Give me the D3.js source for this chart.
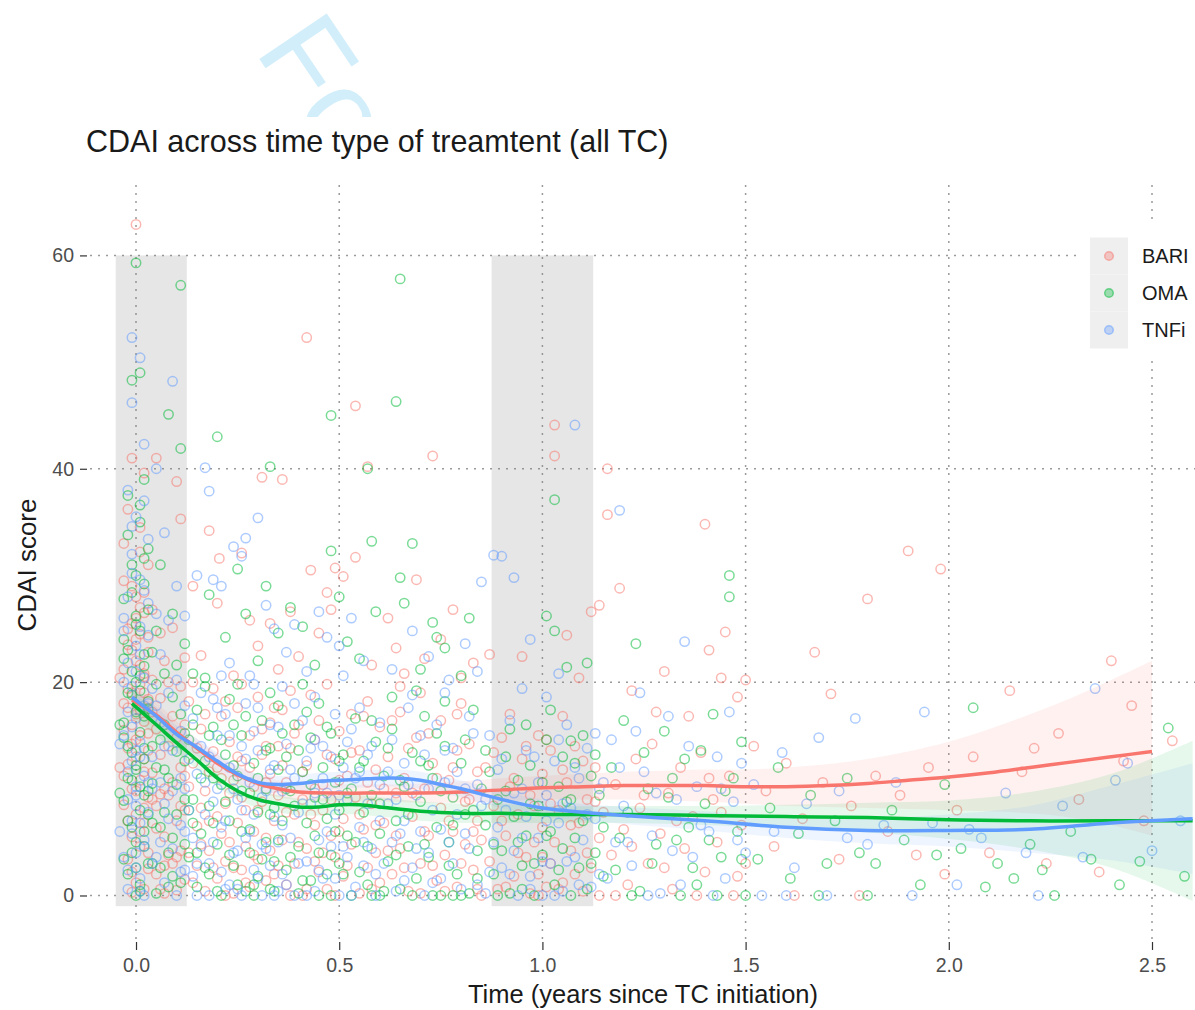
<!DOCTYPE html>
<html><head><meta charset="utf-8">
<script src="https://cdn.jsdelivr.net/npm/d3@7"></script>
<style>
html,body{margin:0;padding:0;background:#fff;}
svg{display:block;font-family:"Liberation Sans",Arial,sans-serif;}
</style></head><body>
<svg id="chart" width="1195" height="1010"></svg>
<script>
// CDAI score over time since treatment change, by type of treatment
const groups = ["BARI", "OMA", "TNFi"];
const groupColors = ["#F8766D", "#00BA38", "#619CFF"];
const xTicks = [0, 0.5, 1, 1.5, 2, 2.5];
const yTicks = [0, 20, 40, 60];
const visitWindows = [[-0.05, 0.125], [0.875, 1.125]];
const windowRange = [-1, 60];

// observations: [years since TC initiation, CDAI score]
const bariPts = [
[0.00,62.9],[-0.01,41.0],[0.02,39.6],[-0.02,36.2],[0.01,34.5],[0.03,31.0],[-0.03,29.5],[0.00,28.0],[0.02,26.5],[-0.01,25.5],[0.01,24.5],[-0.02,23.5],[0.03,22.8],[0.00,22.0],[-0.03,21.2],[0.02,20.5],[0.01,19.8],[-0.01,19.0],[0.03,18.4],[-0.02,17.6],[0.00,17.0],[0.02,16.3],[-0.03,15.5],[0.01,15.0],[-0.01,14.2],[0.03,13.6],[0.00,13.0],[-0.02,12.3],[0.02,11.6],[0.01,10.8],[-0.01,10.0],[0.03,9.2],[-0.03,8.5],[0.00,7.6],[0.02,6.8],[-0.01,5.5],[0.01,4.6],[-0.02,3.4],[0.03,2.5],[0.00,1.2],[-0.01,0.3],[0.02,20.8],[0.00,24.0],[-0.02,19.4],[0.01,27.0],
[-0.03,33.0],[0.01,32.2],[-0.01,29.0],[0.02,28.4],[0.00,26.0],[-0.02,25.0],[0.03,24.2],[-0.01,23.0],[0.01,21.6],[0.02,19.0],[-0.03,18.0],[0.01,17.4],[-0.01,16.0],[0.03,15.2],[0.00,14.6],[-0.02,13.8],[0.02,12.8],[-0.03,11.2],[0.00,9.8],[0.02,8.2],[-0.02,7.0],[0.01,6.0],[0.03,4.0],[-0.01,2.2],[0.02,0.6],[0.04,26.8],[0.04,17.2],[0.04,9.0],[-0.04,20.4],[-0.04,12.0],
[0.05,41.0],[0.11,35.3],[0.10,38.8],[0.07,22.0],[0.09,25.1],[0.12,22.3],[0.06,18.5],[0.09,16.8],[0.08,14.0],[0.11,12.0],[0.04,11.5],[0.06,9.5],[0.12,8.0],[0.07,5.5],[0.08,3.8],[0.05,2.0],[0.10,0.5],[0.04,20.2],[0.06,13.2],[0.10,7.0],[0.11,4.2],[0.05,6.3],[0.09,10.6],[0.12,1.5],[0.07,0.2],
[0.05,15.6],[0.06,24.6],[0.07,10.0],[0.08,20.0],[0.09,3.0],[0.10,14.8],[0.11,19.6],[0.12,11.2],[0.05,8.4],[0.07,2.8],[0.08,9.4],[0.10,3.6],[0.11,8.4],[0.12,16.0],[0.06,0.6],
[0.14,29.0],[0.16,22.5],[0.18,34.2],[0.20,27.4],[0.205,31.6],[0.24,20.6],[0.26,32.1],[0.28,25.8],[0.30,23.4],[0.31,39.2],[0.33,25.5],[0.35,21.2],
[0.13,18.2],[0.14,12.4],[0.15,6.5],[0.15,2.8],[0.16,15.6],[0.17,9.8],[0.17,0.4],[0.18,4.2],[0.19,13.5],[0.19,19.4],[0.20,7.4],[0.20,1.6],[0.21,11.0],[0.21,16.8],[0.22,3.2],[0.22,8.6],[0.23,14.4],[0.23,5.0],[0.24,0.2],[0.24,10.8],[0.25,17.6],[0.25,6.8],[0.26,2.4],[0.26,12.6],[0.27,8.0],[0.27,4.6],[0.28,15.0],[0.28,0.8],[0.29,10.2],[0.29,6.0],[0.30,18.6],[0.30,3.4],[0.31,13.2],[0.31,8.8],[0.32,1.4],[0.32,5.4],[0.33,16.2],[0.33,11.4],[0.34,7.0],[0.34,2.0],[0.35,14.0],[0.35,9.4],[0.13,4.0],[0.16,8.2],[0.18,11.6],
[0.13,10.2],[0.14,1.2],[0.15,13.8],[0.16,4.8],[0.17,17.0],[0.18,7.0],[0.19,2.6],[0.20,12.0],[0.21,5.8],[0.22,18.2],[0.23,9.6],[0.24,2.6],[0.25,13.0],[0.26,9.2],[0.27,1.2],[0.28,12.0],[0.29,3.8],[0.30,8.0],[0.31,15.6],[0.32,10.6],[0.33,4.2],[0.34,17.6],[0.35,2.8],[0.36,12.2],[0.37,7.8],[0.38,0.0],[0.39,15.2],[0.40,5.0],[0.41,11.6],[0.42,0.6],[0.43,7.6],[0.44,10.0],[0.45,16.4],[0.46,4.0],[0.47,13.2],[0.48,9.0],[0.49,0.0],[0.50,6.0],[0.14,20.0],[0.22,0.0],[0.26,19.8],[0.32,14.0],[0.38,19.2],[0.44,3.2],[0.50,10.8],
[0.36,39.0],[0.38,26.6],[0.40,22.4],[0.42,52.3],[0.43,30.5],[0.45,24.6],[0.47,28.4],[0.48,26.8],[0.49,30.7],[0.51,29.9],[0.54,31.7],[0.54,45.9],[0.57,40.2],[0.58,21.6],
[0.36,17.4],[0.36,5.2],[0.37,10.6],[0.37,1.0],[0.38,13.8],[0.39,7.6],[0.39,3.0],[0.40,16.0],[0.41,9.0],[0.41,0.0],[0.42,12.2],[0.42,4.4],[0.43,18.8],[0.44,6.6],[0.44,14.6],[0.45,2.2],[0.46,10.4],[0.46,8.0],[0.47,19.8],[0.47,0.6],[0.48,5.6],[0.49,12.8],[0.49,3.6],[0.50,15.4],[0.51,7.2],[0.51,1.8],[0.52,11.2],[0.53,17.0],[0.53,4.8],[0.54,9.2],[0.55,13.6],[0.55,0.2],[0.56,6.2],[0.57,2.6],[0.57,18.2],[0.58,8.6],[0.59,11.8],[0.59,4.0],[0.60,15.8],[0.60,1.2],
[0.52,2.8],[0.53,13.4],[0.55,7.6],[0.56,16.8],[0.58,0.6],[0.59,6.6],[0.61,10.0],[0.62,4.2],[0.63,16.4],[0.64,5.6],[0.66,2.6],[0.67,13.8],[0.68,9.6],[0.70,0.2],[0.71,6.0],[0.72,15.2],[0.74,11.0],[0.76,0.4],[0.77,7.0],[0.78,12.0],[0.80,3.0],[0.81,8.8],[0.83,6.0],[0.84,0.6],[0.57,10.6],[0.65,19.6],[0.73,2.8],[0.79,17.0],
[0.62,26.0],[0.64,23.2],[0.66,20.8],[0.69,29.6],[0.71,22.2],[0.73,41.2],[0.75,24.0],[0.78,26.8],[0.80,20.4],[0.83,21.8],
[0.61,6.8],[0.62,13.0],[0.63,2.0],[0.64,9.6],[0.65,17.2],[0.65,4.4],[0.66,11.0],[0.67,0.4],[0.68,7.4],[0.69,14.8],[0.70,3.0],[0.70,19.0],[0.71,10.0],[0.72,5.6],[0.73,12.4],[0.74,1.4],[0.75,8.2],[0.75,16.4],[0.76,3.8],[0.77,10.8],[0.78,6.0],[0.79,13.6],[0.79,0.8],[0.80,18.0],[0.81,4.8],[0.82,9.0],[0.82,14.2],[0.83,2.4],[0.84,7.0],[0.84,11.6],[0.85,0.0],[0.85,5.2],
[0.87,22.6],[0.95,22.4],[1.03,44.1],[1.03,41.2],[1.06,24.4],[1.09,20.4],[1.12,26.6],[1.14,27.2],[1.16,40.0],[1.16,35.7],[0.92,17.0],[1.05,16.8],[0.99,15.0],
[0.86,12.0],[0.87,3.2],[0.88,8.4],[0.89,0.6],[0.90,14.8],[0.91,5.6],[0.92,10.2],[0.93,1.8],[0.94,7.6],[0.95,12.8],[0.96,3.6],[0.97,0.2],[0.97,9.4],[0.98,5.0],[0.99,2.0],[1.00,11.4],[1.00,6.4],[1.01,0.8],[1.02,13.6],[1.02,3.0],[1.04,8.0],[1.05,1.2],[1.06,10.6],[1.07,4.2],[1.08,14.0],[1.09,6.8],[1.10,0.4],[1.11,9.0],[1.12,2.6],[1.13,12.0],[1.14,5.4],[1.15,7.8],
[0.88,13.4],[0.90,7.0],[0.91,0.8],[0.93,11.0],[0.94,4.0],[0.96,14.0],[0.98,8.4],[0.99,0.0],[1.00,3.6],[1.01,14.6],[1.02,8.6],[1.03,5.0],[1.04,0.6],[1.05,11.8],[1.07,6.6],[1.08,2.0],[1.10,12.6],[1.11,4.0],[1.13,8.8],[1.14,0.0],
[1.19,28.8],[1.22,19.2],[1.30,21.0],[1.36,16.8],[1.40,34.8],[1.41,23.0],[1.44,20.4],[1.45,24.7],[1.48,18.6],[1.50,20.2],[1.28,17.2],
[1.17,3.8],[1.18,10.4],[1.20,6.2],[1.21,1.0],[1.23,12.8],[1.24,8.2],[1.26,3.0],[1.27,14.2],[1.29,5.8],[1.31,9.6],[1.32,0.6],[1.34,12.0],[1.35,4.4],[1.37,7.4],[1.39,13.4],[1.40,2.2],[1.42,9.0],[1.43,5.0],[1.46,11.2],[1.47,0.0],[1.49,6.6],[1.50,3.0],
[1.18,0.0],[1.22,4.6],[1.25,9.4],[1.30,2.6],[1.33,7.0],[1.38,0.0],[1.41,11.0],[1.44,7.8],[1.48,1.8],
[1.52,14.0],[1.55,9.8],[1.57,4.6],[1.60,12.4],[1.62,0.0],[1.64,7.2],[1.67,22.8],[1.69,10.6],[1.71,18.9],[1.73,3.4],[1.76,8.4],[1.78,0.0],[1.80,27.8],[1.82,11.2],[1.85,6.0],[1.88,9.4],[1.90,32.3],[1.92,3.8],[1.95,12.0],[1.98,30.6],[1.99,2.0],
[2.02,8.0],[2.06,13.0],[2.10,4.0],[2.15,19.2],[2.18,11.6],[2.21,13.8],[2.24,3.0],[2.27,15.2],[2.32,9.0],[2.37,2.2],[2.40,22.0],[2.43,12.6],[2.45,17.8],[2.48,7.0],[2.55,14.5]
];
const omaPts = [
[0.00,59.3],[0.01,49.0],[-0.01,48.3],[0.02,39.0],[-0.02,37.5],[0.01,35.0],[0.03,32.5],[-0.01,31.0],[0.02,29.2],[-0.03,27.8],[0.00,26.2],[0.01,24.8],[-0.02,23.0],[0.02,21.5],[0.00,20.0],[-0.01,18.8],[0.03,17.5],[-0.03,16.2],[0.01,15.3],[-0.02,14.0],[0.02,12.8],[0.00,11.8],[-0.01,10.8],[0.03,9.8],[-0.03,8.9],[0.01,8.0],[-0.02,7.0],[0.02,6.0],[0.00,5.0],[-0.01,4.0],[0.03,3.0],[-0.02,2.0],[0.01,1.0],[0.00,0.0],[0.02,9.4],[-0.01,13.4],[0.01,19.2],[-0.03,22.2],[0.02,16.8],[0.00,30.0],
[0.01,36.6],[-0.02,33.8],[0.02,31.6],[-0.01,28.4],[0.03,26.8],[0.00,25.4],[-0.03,24.0],[0.02,22.6],[-0.01,21.0],[0.01,20.6],[-0.02,19.0],[0.03,18.2],[0.00,17.2],[-0.03,14.8],[0.02,13.8],[0.00,12.2],[-0.02,11.0],[0.01,10.2],[0.03,7.6],[-0.01,6.4],[0.02,4.6],[-0.03,3.4],[0.00,2.6],[0.01,0.4],[0.04,22.8],[0.04,14.0],[0.04,6.8],[-0.04,16.0],[-0.04,9.6],
[0.11,57.2],[0.08,45.1],[0.11,41.9],[0.06,31.0],[0.09,26.4],[0.12,23.6],[0.05,19.8],[0.07,16.0],[0.10,13.5],[0.04,10.5],[0.12,9.0],[0.06,6.4],[0.08,4.0],[0.11,1.2],[0.05,0.2],[0.09,18.6],[0.12,15.2],[0.07,11.8],[0.10,7.6],[0.04,3.0],[0.08,0.8],
[0.05,24.8],[0.06,14.6],[0.07,20.8],[0.08,11.0],[0.09,5.4],[0.10,21.6],[0.11,17.0],[0.12,4.8],[0.05,12.0],[0.07,7.8],[0.09,1.8],[0.10,10.4],[0.12,12.6],[0.06,2.6],
[0.20,43.0],[0.14,20.8],[0.18,28.2],[0.22,24.2],[0.25,30.6],[0.27,26.4],[0.30,22.0],[0.33,40.2],[0.32,29.0],[0.35,24.6],
[0.13,14.6],[0.13,3.6],[0.14,9.0],[0.15,17.4],[0.15,0.8],[0.16,5.8],[0.17,12.6],[0.18,2.0],[0.18,8.4],[0.19,15.8],[0.20,4.8],[0.21,10.4],[0.21,0.0],[0.22,13.2],[0.23,7.0],[0.23,18.4],[0.24,2.8],[0.25,11.2],[0.26,6.0],[0.26,15.0],[0.27,0.4],[0.28,9.6],[0.28,4.0],[0.29,12.4],[0.30,7.8],[0.30,1.8],[0.31,16.4],[0.32,5.0],[0.32,10.0],[0.33,13.8],[0.33,0.6],[0.34,8.2],[0.34,3.2],[0.35,11.8],[0.35,17.8],[0.14,6.8],[0.17,19.6],[0.19,11.0],[0.24,16.0],[0.29,1.0],
[0.13,8.0],[0.14,16.0],[0.15,4.0],[0.16,11.0],[0.17,2.6],[0.18,15.0],[0.19,6.8],[0.20,0.4],[0.21,14.6],[0.22,8.8],[0.23,3.8],[0.24,12.2],[0.25,1.0],[0.26,9.8],[0.27,16.8],[0.28,6.2],[0.29,0.0],[0.30,11.0],[0.31,3.4],[0.32,13.6],[0.33,7.6],[0.34,0.4],[0.35,5.2],[0.36,15.2],[0.37,10.0],[0.38,3.6],[0.39,8.4],[0.40,13.6],[0.41,1.4],[0.42,17.2],[0.43,10.4],[0.44,5.6],[0.45,0.0],[0.46,9.0],[0.47,15.8],[0.48,3.8],[0.49,6.0],[0.50,12.6],[0.17,20.4],[0.25,19.8],[0.33,19.0],[0.41,19.8],[0.47,2.0],
[0.38,27.0],[0.41,25.2],[0.44,21.6],[0.48,45.0],[0.48,32.3],[0.50,28.0],[0.52,23.8],[0.55,22.2],[0.57,40.0],[0.58,33.2],[0.59,26.6],
[0.36,7.0],[0.37,13.0],[0.37,2.4],[0.38,9.8],[0.39,16.0],[0.40,4.6],[0.40,0.2],[0.41,11.6],[0.42,6.8],[0.43,14.8],[0.43,1.4],[0.44,9.2],[0.45,4.0],[0.45,18.0],[0.46,12.0],[0.47,7.2],[0.48,0.0],[0.48,15.2],[0.49,10.6],[0.50,3.0],[0.50,8.0],[0.51,13.2],[0.52,5.6],[0.53,0.0],[0.53,10.0],[0.54,16.6],[0.55,2.2],[0.56,7.8],[0.56,12.6],[0.57,4.6],[0.58,0.0],[0.58,9.4],[0.59,14.4],[0.60,5.8],[0.60,0.0],
[0.51,2.0],[0.52,9.6],[0.54,5.0],[0.55,12.0],[0.57,1.0],[0.58,16.4],[0.60,8.6],[0.61,0.4],[0.62,13.8],[0.64,3.8],[0.65,10.8],[0.67,7.6],[0.68,0.0],[0.70,12.6],[0.71,4.8],[0.73,0.0],[0.74,15.2],[0.75,9.8],[0.77,2.8],[0.78,6.6],[0.80,0.0],[0.81,14.6],[0.83,8.0],[0.84,1.6],[0.63,18.6],[0.76,18.2],
[0.64,46.3],[0.65,57.8],[0.65,29.8],[0.66,27.4],[0.68,33.0],[0.70,21.2],[0.74,24.2],[0.73,25.6],[0.76,23.2],[0.80,20.6],[0.82,26.0],
[0.61,11.2],[0.62,3.2],[0.63,15.6],[0.64,7.0],[0.65,0.6],[0.66,10.2],[0.67,4.6],[0.68,13.4],[0.69,1.6],[0.70,8.8],[0.71,16.8],[0.72,3.6],[0.73,11.0],[0.74,6.4],[0.75,0.0],[0.76,14.0],[0.77,5.0],[0.78,9.2],[0.79,2.0],[0.80,12.4],[0.81,7.6],[0.82,0.2],[0.83,17.4],[0.84,4.2],[0.85,10.0],[0.69,19.2],[0.72,12.2],[0.78,0.0],
[1.03,37.1],[1.01,26.2],[1.03,24.8],[1.06,21.4],[1.11,21.8],[0.96,16.0],[1.07,14.5],
[0.86,6.6],[0.87,11.6],[0.88,2.0],[0.89,9.0],[0.90,4.2],[0.91,13.0],[0.92,0.2],[0.93,7.4],[0.94,10.8],[0.95,2.8],[0.96,5.6],[0.97,12.2],[0.98,0.0],[0.99,8.4],[1.00,3.8],[1.01,14.6],[1.02,6.0],[1.03,1.0],[1.04,10.2],[1.05,4.4],[1.06,8.8],[1.07,0.0],[1.08,12.4],[1.09,2.6],[1.10,7.0],[1.11,0.6],[1.12,11.2],[1.13,4.0],[1.14,9.4],[1.15,1.8],
[0.86,13.6],[0.88,4.8],[0.89,0.0],[0.91,9.8],[0.92,15.6],[0.94,5.0],[0.95,0.6],[0.97,8.6],[0.98,3.0],[1.00,10.6],[1.01,5.6],[1.02,17.4],[1.04,2.4],[1.05,13.0],[1.07,9.0],[1.08,5.4],[1.10,15.0],[1.12,3.0],[1.13,13.2],[1.15,6.4],
[1.20,16.4],[1.23,23.6],[1.26,10.0],[1.30,15.4],[1.33,5.2],[1.35,12.8],[1.38,1.0],[1.40,8.6],[1.42,17.0],[1.44,3.6],[1.46,30.0],[1.46,28.0],[1.47,11.0],[1.48,6.0],[1.50,0.0],[1.18,2.4],[1.21,7.8],[1.24,0.4],[1.28,4.8],[1.31,9.2],[1.36,6.4],[1.39,13.6],[1.43,0.0],[1.49,14.4],
[1.17,12.0],[1.19,5.4],[1.22,0.0],[1.25,13.4],[1.27,3.0],[1.32,11.0],[1.34,0.0],[1.37,2.6],[1.41,5.2],[1.45,9.8],[1.49,3.4],
[1.53,3.4],[1.56,8.2],[1.58,12.0],[1.61,1.6],[1.63,5.8],[1.66,9.4],[1.70,3.0],[1.72,7.0],[1.75,11.0],[1.78,4.0],[1.82,3.0],[1.86,8.0],[1.89,5.2],[1.93,1.0],[1.97,3.8],[1.99,10.4],[1.68,0.0],[1.80,0.0],
[2.03,4.4],[2.06,17.6],[2.09,0.8],[2.12,3.0],[2.16,1.6],[2.20,4.8],[2.23,2.4],[2.26,0.0],[2.30,6.0],[2.35,3.4],[2.42,1.0],[2.47,3.2],[2.54,15.7],[2.58,1.8]
];
const tnfiPts = [
[-0.01,52.3],[0.01,50.4],[-0.01,46.2],[0.02,42.3],[-0.02,38.0],[0.00,35.5],[0.03,33.4],[-0.01,30.2],[0.02,28.6],[-0.03,26.0],[0.01,25.2],[0.00,23.4],[-0.02,21.8],[0.02,20.4],[-0.01,19.6],[0.03,18.0],[0.00,16.6],[-0.03,15.0],[0.01,14.4],[-0.01,12.6],[0.02,11.2],[0.00,10.2],[-0.02,9.0],[0.03,7.8],[0.01,6.8],[-0.01,5.8],[0.02,4.6],[-0.03,3.6],[0.00,2.6],[0.01,1.6],[-0.02,0.6],[0.02,0.0],[0.00,13.6],[-0.02,17.2],[0.01,22.6],[0.03,27.4],[-0.01,32.0],[0.00,8.4],
[0.02,37.0],[-0.01,34.6],[0.01,29.6],[-0.02,28.0],[0.03,24.4],[0.00,21.0],[-0.03,20.0],[0.02,17.8],[-0.01,15.8],[0.01,13.0],[-0.02,11.6],[0.03,10.6],[0.00,9.4],[-0.01,7.0],[0.02,5.2],[0.00,4.0],[-0.02,2.4],[0.01,0.4],[0.04,19.4],[0.04,10.0],[0.04,3.0],[-0.04,14.2],[-0.04,6.0],[-0.03,24.8],
[0.09,48.2],[0.05,40.0],[0.07,34.0],[0.10,29.0],[0.12,26.2],[0.06,22.6],[0.08,19.0],[0.11,15.4],[0.04,13.0],[0.09,9.8],[0.12,6.0],[0.05,3.6],[0.07,1.2],[0.10,0.0],[0.06,16.2],[0.11,11.0],[0.08,7.2],[0.12,2.4],
[0.05,26.4],[0.06,10.6],[0.07,14.0],[0.08,25.8],[0.09,4.4],[0.10,20.2],[0.11,6.6],[0.12,17.8],[0.05,17.8],[0.07,8.6],[0.09,13.6],[0.11,2.2],[0.12,10.0],[0.06,5.0],
[0.17,40.1],[0.18,37.9],[0.15,30.0],[0.19,29.6],[0.21,29.0],[0.24,32.7],[0.26,31.8],[0.27,33.5],[0.30,35.4],[0.32,27.2],[0.34,25.0],[0.23,21.8],[0.28,20.6],
[0.13,8.0],[0.14,16.6],[0.14,1.8],[0.15,11.4],[0.16,4.6],[0.16,19.0],[0.17,7.6],[0.18,13.0],[0.18,0.0],[0.19,5.0],[0.20,10.0],[0.20,15.0],[0.21,2.2],[0.22,7.0],[0.22,17.0],[0.23,12.0],[0.24,4.0],[0.25,0.6],[0.25,9.0],[0.26,14.0],[0.27,5.4],[0.27,18.0],[0.28,10.6],[0.29,2.4],[0.29,7.6],[0.30,13.6],[0.31,0.0],[0.31,4.8],[0.32,9.8],[0.33,16.0],[0.33,2.8],[0.34,7.4],[0.34,12.2],[0.35,0.4],[0.35,5.0],[0.15,3.0],[0.19,18.4],[0.23,1.0],[0.26,8.0],[0.30,17.6],
[0.13,12.8],[0.14,5.4],[0.15,0.0],[0.16,14.0],[0.17,10.6],[0.18,3.0],[0.19,8.8],[0.20,17.6],[0.21,6.4],[0.22,0.6],[0.23,15.0],[0.24,10.0],[0.25,4.2],[0.26,0.0],[0.27,12.8],[0.28,6.0],[0.29,15.4],[0.30,1.6],[0.31,9.2],[0.32,4.4],[0.33,11.8],[0.34,0.0],[0.35,15.8],[0.36,6.6],[0.37,1.0],[0.38,11.8],[0.39,18.0],[0.40,3.0],[0.41,8.6],[0.42,0.0],[0.43,13.8],[0.44,9.6],[0.45,2.4],[0.46,11.0],[0.47,6.0],[0.48,13.0],[0.49,1.6],[0.50,9.4],[0.21,20.6],[0.29,19.8],[0.36,19.6],[0.44,14.6],
[0.37,22.8],[0.39,25.4],[0.42,21.0],[0.45,26.6],[0.47,24.2],[0.50,23.4],[0.53,26.0],[0.56,22.0],[0.51,20.6],
[0.36,9.8],[0.36,2.0],[0.37,14.2],[0.38,5.4],[0.39,11.0],[0.39,0.0],[0.40,7.8],[0.41,16.4],[0.42,3.2],[0.42,12.6],[0.43,8.6],[0.44,0.4],[0.44,18.6],[0.45,5.2],[0.46,14.0],[0.46,1.6],[0.47,9.6],[0.48,4.6],[0.49,17.0],[0.49,7.6],[0.50,0.0],[0.51,12.0],[0.52,3.6],[0.52,9.0],[0.53,15.6],[0.54,0.8],[0.55,6.4],[0.55,11.6],[0.56,2.8],[0.57,8.6],[0.58,14.0],[0.58,4.4],[0.59,0.0],[0.60,10.4],[0.60,7.0],
[0.51,4.6],[0.52,14.4],[0.53,0.0],[0.54,11.0],[0.56,5.0],[0.57,13.2],[0.59,2.0],[0.60,16.2],[0.62,11.6],[0.63,5.0],[0.64,9.0],[0.66,1.4],[0.67,10.4],[0.69,4.4],[0.70,15.0],[0.72,10.0],[0.73,1.2],[0.75,6.2],[0.76,13.6],[0.78,3.0],[0.79,11.6],[0.81,5.8],[0.82,16.8],[0.84,10.4],[0.55,17.6],[0.68,18.8],
[0.63,21.2],[0.68,24.8],[0.72,22.4],[0.77,20.2],[0.81,23.6],[0.84,21.0],[0.88,31.9],[0.85,29.4],
[0.61,3.0],[0.62,8.6],[0.63,14.6],[0.64,0.4],[0.65,5.8],[0.66,12.4],[0.67,17.6],[0.68,2.6],[0.69,9.4],[0.70,6.0],[0.71,0.0],[0.71,13.2],[0.72,4.0],[0.73,8.0],[0.74,16.0],[0.75,1.6],[0.76,10.6],[0.77,5.0],[0.78,13.8],[0.79,7.6],[0.80,0.6],[0.81,10.0],[0.82,4.4],[0.83,15.2],[0.84,1.0],[0.85,8.4],[0.66,7.0],[0.76,19.0],
[0.90,31.8],[0.93,29.8],[1.08,44.1],[1.19,36.1],[0.95,19.4],[1.01,18.6],[1.04,20.8],[0.97,24.0],
[0.86,0.2],[0.87,15.0],[0.88,5.0],[0.89,11.8],[0.90,2.6],[0.91,8.0],[0.92,16.4],[0.93,4.2],[0.94,0.0],[0.95,10.0],[0.96,7.4],[0.97,1.8],[0.98,13.0],[0.99,5.4],[1.00,0.0],[1.01,9.4],[1.02,3.0],[1.03,12.6],[1.04,6.8],[1.05,0.4],[1.06,16.0],[1.07,8.2],[1.08,3.6],[1.09,11.0],[1.10,5.2],[1.11,13.8],[1.12,0.8],[1.13,7.2],[1.14,2.0],[1.15,10.6],
[0.86,9.0],[0.87,2.2],[0.89,6.4],[0.90,12.8],[0.92,2.0],[0.93,9.6],[0.95,5.4],[0.96,13.6],[0.97,0.6],[0.99,10.6],[1.00,3.2],[1.01,7.0],[1.03,0.0],[1.04,14.6],[1.05,8.6],[1.06,3.2],[1.08,12.0],[1.09,1.0],[1.11,7.6],[1.13,15.2],[1.14,10.0],
[1.17,14.6],[1.20,8.4],[1.22,2.8],[1.25,11.6],[1.27,5.6],[1.29,0.2],[1.31,16.8],[1.33,9.0],[1.35,23.8],[1.37,3.6],[1.38,10.2],[1.41,6.0],[1.43,13.0],[1.45,1.6],[1.47,8.8],[1.49,12.4],[1.50,4.0],[1.24,19.0],[1.18,5.0],[1.34,1.0],[1.46,17.2],
[1.16,1.6],[1.19,12.0],[1.21,5.0],[1.23,15.4],[1.26,0.0],[1.28,9.6],[1.32,4.2],[1.36,14.0],[1.39,6.6],[1.42,0.0],[1.44,10.0],[1.48,5.2],
[1.52,10.4],[1.54,0.0],[1.57,6.0],[1.59,13.4],[1.62,2.6],[1.65,8.6],[1.68,14.8],[1.70,0.0],[1.73,9.8],[1.77,16.6],[1.80,4.8],[1.84,6.6],[1.87,10.6],[1.91,0.0],[1.94,17.2],[1.96,6.8],[1.60,0.0],[1.75,5.4],
[2.02,1.0],[2.05,6.2],[2.08,5.4],[2.14,9.6],[2.19,4.0],[2.22,0.0],[2.28,8.4],[2.33,3.6],[2.36,19.4],[2.41,10.8],[2.44,12.4],[2.50,4.2],[2.57,7.0]
];

// smoothed trend with confidence band: time, fit, lower, upper
const bariSmoothT = [-0.01,0.05,0.10,0.15,0.20,0.25,0.30,0.35,0.40,0.50,0.60,0.70,0.80,0.90,1.00,1.10,1.20,1.30,1.40,1.50,1.60,1.70,1.80,1.90,2.00,2.10,2.20,2.30,2.40,2.50];
const bariFit = [18.3,16.9,15.3,13.8,12.4,11.3,10.5,10.0,9.7,9.6,9.6,9.6,9.7,9.9,10.1,10.2,10.3,10.3,10.3,10.2,10.2,10.3,10.5,10.8,11.1,11.5,12.0,12.5,13.0,13.5];
const bariLo = [16.8,15.7,14.3,12.9,11.6,10.5,9.7,9.2,8.9,8.8,8.8,8.7,8.7,8.8,9.0,9.0,9.0,8.9,8.8,8.6,8.4,8.3,8.2,8.1,8.0,7.9,7.7,7.3,6.6,5.6];
const bariHi = [19.8,18.1,16.3,14.7,13.2,12.1,11.3,10.8,10.5,10.4,10.4,10.5,10.7,11.0,11.2,11.4,11.6,11.7,11.8,11.8,12.0,12.3,12.8,13.5,14.4,15.6,17.0,18.5,20.2,22.0];

const omaSmoothT = [-0.01,0.05,0.10,0.15,0.20,0.25,0.30,0.35,0.40,0.45,0.50,0.55,0.60,0.70,0.80,0.90,1.00,1.20,1.40,1.60,1.80,2.00,2.20,2.40,2.60];
const omaFit = [18.0,16.0,14.3,12.7,11.0,9.8,9.0,8.6,8.3,8.3,8.5,8.5,8.3,7.9,7.7,7.7,7.6,7.6,7.5,7.4,7.3,7.1,7.0,7.0,7.0];
const omaLo = [16.6,15.0,13.4,11.8,10.2,9.0,8.2,7.8,7.5,7.5,7.6,7.6,7.4,7.0,6.8,6.8,6.8,6.8,6.6,6.3,5.9,5.3,4.3,2.6,-0.5];
const omaHi = [19.4,17.0,15.2,13.6,11.8,10.6,9.8,9.4,9.1,9.1,9.4,9.4,9.2,8.8,8.6,8.6,8.4,8.4,8.4,8.5,8.7,8.9,9.7,11.4,14.5];

const tnfiSmoothT = [-0.01,0.05,0.10,0.15,0.20,0.25,0.30,0.35,0.40,0.45,0.50,0.55,0.60,0.65,0.70,0.75,0.80,0.90,1.00,1.10,1.20,1.40,1.60,1.80,2.00,2.20,2.40,2.60];
const tnfiFit = [18.6,16.8,15.1,13.9,12.6,11.4,10.6,10.4,10.5,10.7,10.8,10.9,11.0,11.0,10.8,10.4,10.0,9.0,8.2,7.8,7.5,7.0,6.4,6.1,6.1,6.2,6.8,7.2];
const tnfiLo = [17.6,15.9,14.3,13.1,11.8,10.6,9.8,9.6,9.7,9.9,10.0,10.1,10.2,10.2,10.0,9.6,9.2,8.2,7.4,7.0,6.7,6.1,5.4,4.9,4.6,4.0,3.3,2.0];
const tnfiHi = [19.6,17.7,15.9,14.7,13.4,12.2,11.4,11.2,11.3,11.5,11.6,11.7,11.8,11.8,11.6,11.2,10.8,9.8,9.0,8.6,8.3,7.9,7.4,7.3,7.6,8.4,10.3,12.4];

const series = [
  {name: groups[0], color: groupColors[0], pts: bariPts, t: bariSmoothT, fit: bariFit, lo: bariLo, hi: bariHi},
  {name: groups[1], color: groupColors[1], pts: omaPts, t: omaSmoothT, fit: omaFit, lo: omaLo, hi: omaHi},
  {name: groups[2], color: groupColors[2], pts: tnfiPts, t: tnfiSmoothT, fit: tnfiFit, lo: tnfiLo, hi: tnfiHi}
];

const svg = d3.select("#chart");
const W = 1195, H = 1010;
const panel = {left: 87, right: 1195, top: 185, bottom: 942};

const x = d3.scaleLinear().domain([-0.1206, 2.6058]).range([panel.left, panel.right]);
const y = d3.scaleLinear().domain([-4.36, 66.6]).range([panel.bottom, panel.top]);

// faint review watermark behind the figure, hidden under the figure area
svg.append("clipPath").attr("id", "wm-clip")
  .append("rect").attr("x", 0).attr("y", 0).attr("width", W).attr("height", 117);
svg.append("g").attr("clip-path", "url(#wm-clip)")
  .append("text")
  .attr("transform", "translate(254,51) rotate(56)")
  .attr("font-size", 118)
  .attr("fill", "#d2eefb")
  .text("Fo");

// title
svg.append("text").attr("x", 86).attr("y", 152)
  .attr("font-size", 30.5).attr("fill", "#1a1a1a")
  .text("CDAI across time type of treamtent (all TC)");

svg.append("clipPath").attr("id", "panel-clip")
  .append("rect").attr("x", panel.left).attr("y", panel.top)
  .attr("width", panel.right - panel.left).attr("height", panel.bottom - panel.top);

// dotted grid
const grid = svg.append("g");
grid.selectAll("line.h").data(yTicks).join("line")
  .attr("x1", panel.left + 3).attr("x2", panel.right)
  .attr("y1", d => y(d)).attr("y2", d => y(d));
grid.selectAll("line.v").data(xTicks).join("line")
  .attr("x1", d => x(d)).attr("x2", d => x(d))
  .attr("y1", panel.top).attr("y2", panel.bottom);
grid.selectAll("line")
  .attr("stroke", "#9a9a9a").attr("stroke-width", 1.5).attr("stroke-dasharray", "2,6");

const plot = svg.append("g").attr("clip-path", "url(#panel-clip)");

// shaded visit windows
plot.selectAll("rect.win").data(visitWindows).join("rect")
  .attr("x", d => x(d[0])).attr("width", d => x(d[1]) - x(d[0]))
  .attr("y", y(windowRange[1])).attr("height", y(windowRange[0]) - y(windowRange[1]))
  .attr("fill", "#808080").attr("fill-opacity", 0.2);

// observations as open circles
series.forEach(s => {
  plot.append("g").selectAll("circle").data(s.pts).join("circle")
    .attr("cx", d => x(d[0])).attr("cy", d => y(d[1])).attr("r", 4.7)
    .attr("fill", "none").attr("stroke", s.color)
    .attr("stroke-width", 1.5).attr("stroke-opacity", 0.52);
});

// confidence bands
series.forEach(s => {
  const area = d3.area().curve(d3.curveCatmullRom)
    .x((d, i) => x(s.t[i])).y0((d, i) => y(s.lo[i])).y1((d, i) => y(s.hi[i]));
  plot.append("path").attr("d", area(s.t))
    .attr("fill", s.color).attr("fill-opacity", 0.1);
});

// smoothed trend lines
series.forEach(s => {
  const line = d3.line().curve(d3.curveCatmullRom)
    .x((d, i) => x(s.t[i])).y((d, i) => y(s.fit[i]));
  plot.append("path").attr("d", line(s.t))
    .attr("fill", "none").attr("stroke", s.color).attr("stroke-width", 3.5);
});

// axes
const yAxis = svg.append("g").attr("transform", `translate(${panel.left},0)`)
  .call(d3.axisLeft(y).tickValues(yTicks).tickSize(7).tickPadding(6));
const xAxis = svg.append("g").attr("transform", `translate(0,${panel.bottom})`)
  .call(d3.axisBottom(x).tickValues(xTicks).tickFormat(d3.format(".1f")).tickSize(8).tickPadding(8));
[yAxis, xAxis].forEach(a => {
  a.select(".domain").remove();
  a.selectAll(".tick line").attr("stroke", "#333").attr("stroke-width", 1.2);
  a.selectAll(".tick text").attr("fill", "#4d4d4d").attr("font-size", 19.5)
    .attr("font-family", "Liberation Sans, Arial, sans-serif");
});

// axis titles
svg.append("text").attr("x", 643).attr("y", 1003).attr("text-anchor", "middle")
  .attr("font-size", 25.5).attr("fill", "#1a1a1a")
  .text("Time (years since TC initiation)");
svg.append("text").attr("transform", "translate(36,565) rotate(-90)").attr("text-anchor", "middle")
  .attr("font-size", 26).attr("fill", "#1a1a1a")
  .text("CDAI score");

// legend
const legend = svg.append("g");
legend.append("rect").attr("x", 1078).attr("y", 225).attr("width", 130).attr("height", 135).attr("fill", "#fff");
series.forEach((s, i) => {
  const cy = 256 + i * 37;
  legend.append("rect").attr("x", 1090).attr("y", cy - 18.5).attr("width", 38).attr("height", 37).attr("fill", "#efefef");
  legend.append("circle").attr("cx", 1109).attr("cy", cy).attr("r", 4.3)
    .attr("fill", s.color).attr("fill-opacity", 0.35)
    .attr("stroke", s.color).attr("stroke-opacity", 0.5).attr("stroke-width", 1.5);
  legend.append("text").attr("x", 1142).attr("y", cy).attr("dy", "0.36em")
    .attr("font-size", 20).attr("fill", "#1a1a1a").text(s.name);
});
</script>
</body></html>
